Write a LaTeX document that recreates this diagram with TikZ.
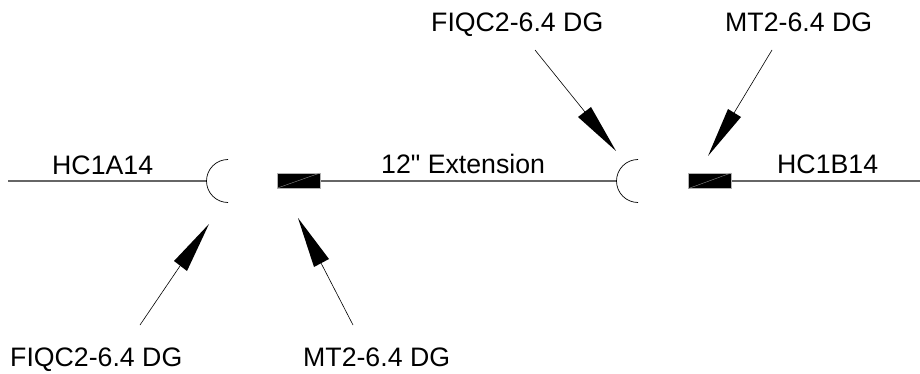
\documentclass[tikz,border=0pt]{standalone}
\usepackage{fontspec}
\newfontfamily\lblfont{Liberation Sans}
\begin{document}
\begin{tikzpicture}[x=1pt,y=-1pt,
  lbl/.style={inner sep=0pt,font=\lblfont\fontsize{26.7}{30}\selectfont,anchor=base west,text=black},
  wire/.style={draw=black!60,line width=1.2pt},
  cup/.style={draw=black,line width=0.7pt},
  lead/.style={draw=black,line width=0.6pt},
  head/.style={fill=black,draw=none},
  plug/.style={fill=black,draw=black!30,line width=0.5pt},
  seam/.style={draw=black!45,line width=0.4pt}]
\useasboundingbox (0,0) rectangle (920,374);
\coordinate (w1) at (8,181);
\coordinate (c1) at (206.5,181);
\coordinate (w2) at (320,181);
\coordinate (c2) at (617,181);
\coordinate (w3) at (731,181);
\coordinate (w4) at (920,181);
\draw[wire] (w1) -- (c1);
\draw[wire] (w2) -- (c2);
\draw[wire] (w3) -- (w4);
\draw[cup] (228,159.5) arc[start angle=-90,end angle=-270,radius=21.5];
\draw[cup] (638,159.5) arc[start angle=-90,end angle=-270,radius=21.5];
\draw[plug] (277.5,173) rectangle (320,188);
\draw[seam] (277.5,188) -- (320,173);
\draw[plug] (688.5,173) rectangle (731,188.5);
\draw[seam] (688.5,188.5) -- (731,173);
\node[lbl] (t1) at (52,175) {HC1A14};
\node[lbl] (t2) at (381,173.5) {12" Extension};
\node[lbl] (t3) at (777,173.5) {HC1B14};
\node[lbl] (t4) at (431,32) {FIQC2-6.4 DG};
\node[lbl] (t5) at (725,32) {MT2-6.4 DG};
\node[lbl] (t6) at (10,366) {FIQC2-6.4 DG};
\node[lbl] (t7) at (303,366) {MT2-6.4 DG};
% leaders
\coordinate (a1) at (535,50);
\coordinate (b1) at (585,112);
\coordinate (a2) at (772,50);
\coordinate (b2) at (734,113);
\coordinate (a3) at (140,325);
\coordinate (b3) at (180,266);
\coordinate (a4) at (353,325);
\coordinate (b4) at (321,263);
\draw[lead] (a1) -- (b1);
\fill[head] (616,151) -- (591,107) -- (578,117) -- cycle;
\draw[lead] (a2) -- (b2);
\fill[head] (708,156) -- (741,117) -- (728,109) -- cycle;
\draw[lead] (a3) -- (b3);
\fill[head] (209,224) -- (174,261) -- (187,271) -- cycle;
\draw[lead] (a4) -- (b4);
\fill[head] (298,218) -- (314,267) -- (329,259) -- cycle;
\end{tikzpicture}
\end{document}
